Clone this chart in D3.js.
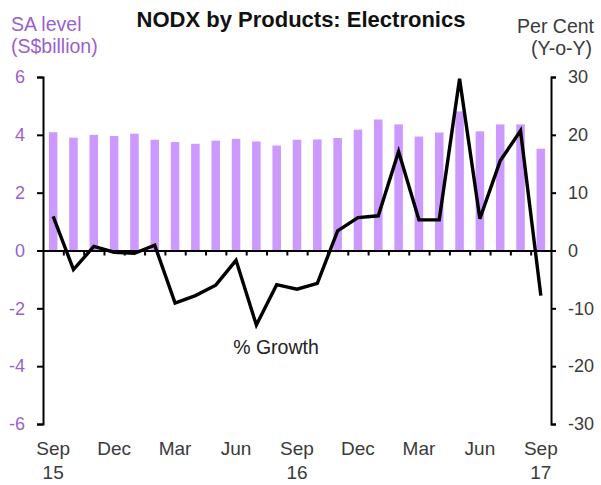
<!DOCTYPE html>
<html>
<head>
<meta charset="utf-8">
<script src="https://cdn.jsdelivr.net/npm/d3@7"></script>
<style>
  body { margin: 0; background: #fff; }
  svg { font-family: "Liberation Sans", Arial, sans-serif; }
</style>
</head>
<body>
<svg id="chart"></svg>
<script>
// monthly, Sep 2015 .. Sep 2017
var months = ["Sep 15", "Oct 15", "Nov 15", "Dec 15", "Jan 16", "Feb 16", "Mar 16", "Apr 16", "May 16",
    "Jun 16", "Jul 16", "Aug 16", "Sep 16", "Oct 16", "Nov 16", "Dec 16", "Jan 17", "Feb 17", "Mar 17",
    "Apr 17", "May 17", "Jun 17", "Jul 17", "Aug 17", "Sep 17"];

// SA level, S$ billion (left axis)
var level = [4.09, 3.90, 4.00, 3.96, 4.04, 3.83, 3.75, 3.69, 3.80, 3.86, 3.77, 3.63, 3.83,
    3.84, 3.89, 4.18, 4.53, 4.36, 3.94, 4.08, 4.81, 4.12, 4.36, 4.36, 3.52];

// % growth y-o-y (right axis)
var growth = [5.9, -3.3, 0.7, -0.3, -0.5, 0.9, -9.1, -7.8, -6.0, -1.7, -12.9, -5.9, -6.7,
    -5.7, 3.4, 5.7, 6.0, 17.1, 5.3, 5.3, 29.7, 5.5, 15.5, 20.7, -7.8];

var tickMonths = ["Sep", "Dec", "Mar", "Jun", "Sep", "Dec", "Mar", "Jun", "Sep"];
var tickYears = ["15", "", "", "", "16", "", "", "", "17"];
var leftTicks = [-6, -4, -2, 0, 2, 4, 6];
var rightTicks = [-30, -20, -10, 0, 10, 20, 30];

var width = 601, height = 485;
var plotLeft = 43, plotRight = 551, plotTop = 77, plotBottom = 424;
var purple = "#9a5fd0";
var grey = "#3a3a3a";

var svg = d3.select("#chart").attr("width", width).attr("height", height);

var x = d3.scaleBand()
    .domain(d3.range(months.length))
    .range([plotLeft, plotRight])
    .paddingInner(0.58)
    .paddingOuter(0.29);

var xIdx = d3.scaleLinear().domain([0, months.length]).range([plotLeft, plotRight]);

var yL = d3.scaleLinear().domain([-6, 6]).range([plotBottom, plotTop]);
var yR = d3.scaleLinear().domain([-30, 30]).range([plotBottom, plotTop]);

// bars
svg.selectAll(".bar")
    .data(level)
    .enter()
    .append("rect")
    .attr("class", "bar")
    .attr("x", function(d, i) { return x(i); })
    .attr("width", x.bandwidth())
    .attr("y", function(d) { return yL(d); })
    .attr("height", function(d) { return yL(0) - yL(d); })
    .attr("fill", "#cc99ff");

// zero axis with category ticks
var zeroAxis = svg.append("g")
    .attr("transform", "translate(0," + yL(0) + ")")
    .call(d3.axisBottom(xIdx)
        .tickValues(d3.range(1, months.length))
        .tickFormat("")
        .tickSize(5)
        .tickSizeOuter(0));
zeroAxis.selectAll("path, line").attr("stroke", "#000").attr("stroke-width", 2);

// growth line
var line = d3.line()
    .x(function(d, i) { return x(i) + x.bandwidth() / 2; })
    .y(function(d) { return yR(d); });

svg.append("path")
    .datum(growth)
    .attr("d", line)
    .attr("fill", "none")
    .attr("stroke", "#000")
    .attr("stroke-width", 3.4)
    .attr("stroke-linejoin", "miter");

// left axis
var gL = svg.append("g")
    .attr("transform", "translate(" + plotLeft + ",0)")
    .call(d3.axisLeft(yL).tickValues(leftTicks).tickFormat(String)
        .tickSize(6).tickSizeOuter(6).tickPadding(12));
gL.selectAll("path, line").attr("stroke", "#000").attr("stroke-width", 2);
gL.selectAll("text").attr("fill", purple).style("font-size", "18px").style("font-family", "Liberation Sans, Arial, sans-serif");

// right axis
var gR = svg.append("g")
    .attr("transform", "translate(" + plotRight + ",0)")
    .call(d3.axisRight(yR).tickValues(rightTicks).tickFormat(String)
        .tickSize(5).tickSizeOuter(5).tickPadding(12));
gR.selectAll("path, line").attr("stroke", "#000").attr("stroke-width", 2);
gR.selectAll("text").attr("fill", grey).style("font-size", "18px").style("font-family", "Liberation Sans, Arial, sans-serif");

// bottom month labels
var gB = svg.append("g")
    .attr("transform", "translate(0,443)")
    .call(d3.axisBottom(x)
        .tickValues(d3.range(0, months.length, 3))
        .tickSize(0)
        .tickFormat(""));
gB.select(".domain").remove();
gB.selectAll(".tick").each(function(d, i) {
    var t = d3.select(this).append("text")
        .attr("fill", grey)
        .attr("text-anchor", "middle")
        .style("font-size", "19px");
    t.append("tspan").attr("x", 0).attr("y", 12).text(tickMonths[i]);
    t.append("tspan").attr("x", 0).attr("y", 36).text(tickYears[i]);
});

// titles
svg.append("text")
    .attr("x", 301).attr("y", 27)
    .attr("text-anchor", "middle")
    .style("font-size", "22px").style("font-weight", "bold")
    .attr("fill", "#111")
    .text("NODX by Products: Electronics");

svg.append("text").attr("x", 11).attr("y", 31)
    .attr("fill", purple).style("font-size", "19.5px").text("SA level");
svg.append("text").attr("x", 11).attr("y", 53)
    .attr("fill", purple).style("font-size", "19.5px").text("(S$billion)");

svg.append("text").attr("x", 594).attr("y", 33).attr("text-anchor", "end")
    .attr("fill", grey).style("font-size", "19.5px").text("Per Cent");
svg.append("text").attr("x", 592).attr("y", 55).attr("text-anchor", "end")
    .attr("fill", grey).style("font-size", "19.5px").text("(Y-o-Y)");

svg.append("text").attr("x", 276).attr("y", 354).attr("text-anchor", "middle")
    .attr("fill", "#222").style("font-size", "19.5px").text("% Growth");
</script>
</body>
</html>
